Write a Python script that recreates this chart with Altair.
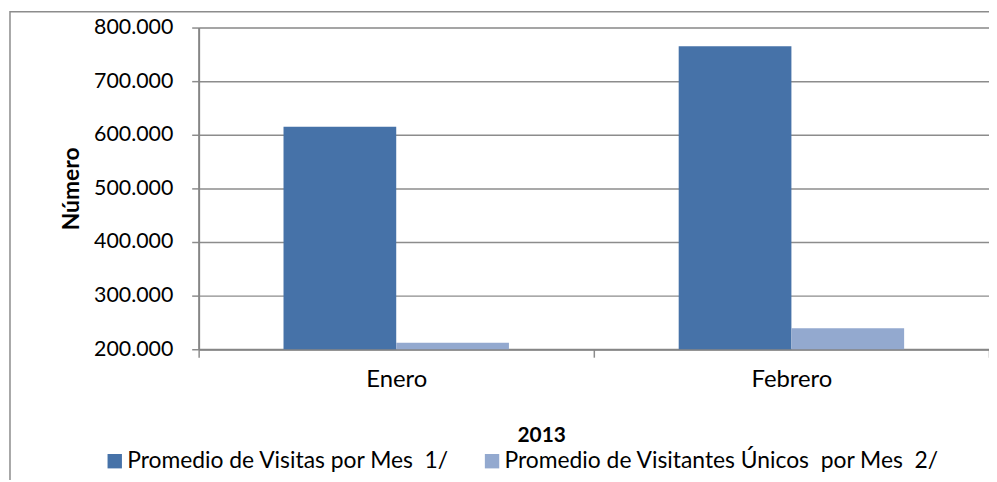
import altair as alt
import pandas as pd

months = ["Enero", "Febrero"]
series_names = [
    "Promedio de Visitas por Mes\u00a0 1/",
    "Promedio de Visitantes Únicos\u00a0 por Mes\u00a0 2/",
]
visitas = [615000, 765000]
unicos = [212000, 239000]
colors = ["#4672A8", "#93A9CF"]
y_ticks = [200000, 300000, 400000, 500000, 600000, 700000, 800000]

rows = []
for i, m in enumerate(months):
    rows.append({"mes": m, "serie": series_names[0], "valor": visitas[i], "orden": 0})
    rows.append({"mes": m, "serie": series_names[1], "valor": unicos[i], "orden": 1})
df = pd.DataFrame(rows)

FONT = "Lato"

frame = alt.Chart(pd.DataFrame({"a": [0]})).mark_rect(
    fill="transparent", stroke="#8c8c8c", strokeWidth=1.5
).encode(
    x=alt.value(-190), x2=alt.value(800), y=alt.value(-16), y2=alt.value(470)
)

bars = alt.Chart(df).mark_bar().encode(
    x=alt.X(
        "mes:N",
        sort=months,
        scale=alt.Scale(paddingInner=0, paddingOuter=0),
        axis=alt.Axis(
            title="2013",
            titleFont=FONT,
            titleFontSize=21,
            titleFontWeight="bold",
            titleX=345,
            titleY=87,
            titleBaseline="middle",
            labelFont=FONT,
            labelFontSize=24,
            labelColor="#000000",
            labelAngle=0,
            labelPadding=11,
            tickBand="extent",
            tickSize=8,
            tickColor="#8c8c8c",
            tickWidth=1.5,
            domainColor="#868686",
            domainWidth=2,
        ),
    ),
    xOffset=alt.XOffset(
        "serie:N",
        sort=series_names,
        scale=alt.Scale(paddingInner=0, paddingOuter=0.753),
    ),
    y=alt.Y(
        "valor:Q",
        scale=alt.Scale(domain=[200000, 800000], zero=False, nice=False),
        axis=alt.Axis(
            values=y_ticks,
            labelExpr="floor(datum.value/1000) + '.000'",
            title="Número",
            titleFont=FONT,
            titleFontSize=23,
            titleFontWeight="bold",
            titleX=-128,
            titleY=162,
            titleBaseline="middle",
            labelFont=FONT,
            labelFontSize=21.5,
            labelColor="#000000",
            labelPadding=19,
            tickSize=7,
            tickColor="#8c8c8c",
            tickWidth=1.5,
            domainColor="#868686",
            domainWidth=2,
            grid=True,
            gridColor="#8c8c8c",
            gridWidth=1.5,
        ),
    ),
    y2=alt.datum(200000),
    color=alt.Color(
        "serie:N",
        sort=series_names,
        scale=alt.Scale(domain=series_names, range=colors),
        legend=alt.Legend(
            title=None,
            orient="none",
            legendX=-96,
            legendY=425,
            direction="horizontal",
            symbolType="square",
            symbolSize=210,
            symbolStrokeWidth=0,
            symbolOpacity=1,
            labelFont=FONT,
            labelFontSize=23,
            labelColor="#000000",
            labelOffset=1,
            labelLimit=700,
            columnPadding=31,
        ),
    ),
)

chart = alt.layer(frame, bars).properties(
    width=796,
    height=324,
    padding={"left": 192, "top": 18, "right": 0, "bottom": 130},
    autosize=alt.AutoSizeParams(type="none"),
).configure_view(strokeOpacity=0).configure(background="white")

chart.save("out.html", embed_options={"renderer": "svg", "actions": False})
